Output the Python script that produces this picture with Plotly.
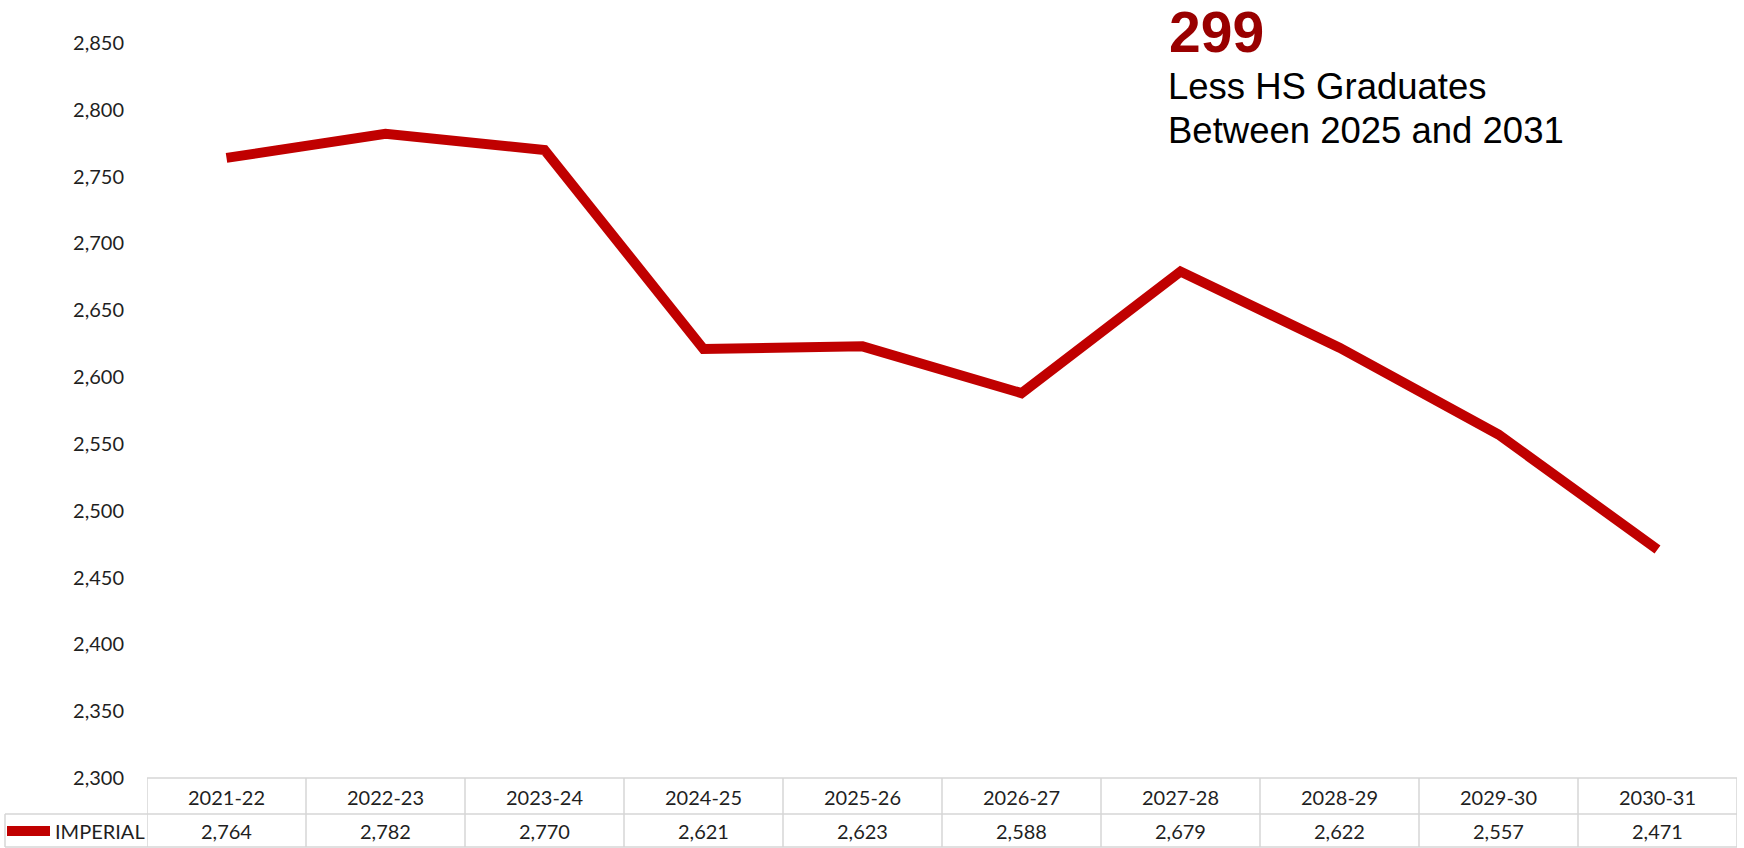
import plotly.graph_objects as go

# ---- data ----
years = ["2021-22", "2022-23", "2023-24", "2024-25", "2025-26",
         "2026-27", "2027-28", "2028-29", "2029-30", "2030-31"]
imperial = [2764, 2782, 2770, 2621, 2623, 2588, 2679, 2622, 2557, 2471]
series_name = "IMPERIAL"
y_ticks = [2300, 2350, 2400, 2450, 2500, 2550, 2600, 2650, 2700, 2750, 2800, 2850]
headline_number = "299"
headline_lines = ["Less HS Graduates", "Between 2025 and 2031"]

# ---- layout geometry (pixels) ----
W, H = 1744, 848
L, R, T, B = 147, 7, 43, 70
PW = W - L - R
PH = H - T - B

def px_x(px):
    return (px - L) / PW

def px_y(py):
    return (H - B - py) / PH

RED = "#C00000"
GRID = "#D6D6D6"
TXT = "#1f1f1f"
FONT = "Lato"
HEAD_FONT = "Liberation Sans, Arial"

fig = go.Figure()
fig.add_trace(go.Scatter(
    x=years, y=imperial, mode="lines", name=series_name,
    line=dict(color=RED, width=10), showlegend=True,
))

shapes = []
line_style = dict(color=GRID, width=1.5)
# horizontal table lines
shapes.append(dict(type="line", xref="x", yref="paper", x0=-0.5, x1=len(years) - 0.5,
                   y0=px_y(778), y1=px_y(778), line=line_style))
for yy in (814, 847):
    shapes.append(dict(type="line", xref="paper", yref="paper", x0=px_x(5), x1=px_x(1737),
                       y0=px_y(yy), y1=px_y(yy), line=line_style))
# vertical table lines at category boundaries
for i in range(len(years) + 1):
    shapes.append(dict(type="line", xref="x", yref="paper", x0=i - 0.5, x1=i - 0.5,
                       y0=px_y(778), y1=px_y(847), line=line_style))
shapes.append(dict(type="line", xref="paper", yref="paper", x0=px_x(5), x1=px_x(5),
                   y0=px_y(814), y1=px_y(847), line=line_style))

annotations = []
for c, v in zip(years, imperial):
    annotations.append(dict(x=c, xref="x", y=px_y(831), yref="paper", text=f"{v:,}",
                            showarrow=False, xanchor="center", yanchor="middle",
                            font=dict(family=FONT, size=20, color=TXT)))
annotations.append(dict(x=px_x(1167), xref="paper", y=px_y(32), yref="paper",
                        text=f"<b>{headline_number}</b>", showarrow=False,
                        xanchor="left", yanchor="middle", height=50,
                        font=dict(family=HEAD_FONT, size=57, color="#990000")))
for line_text, cy in zip(headline_lines, (86, 130)):
    annotations.append(dict(x=px_x(1166), xref="paper", y=px_y(cy), yref="paper",
                            text=line_text, showarrow=False, align="left",
                            xanchor="left", yanchor="middle",
                            font=dict(family=HEAD_FONT, size=36.5, color="#000000")))

fig.update_layout(
    width=W, height=H,
    margin=dict(l=L, r=R, t=T, b=B, autoexpand=False),
    paper_bgcolor="white", plot_bgcolor="white",
    font=dict(family=FONT, size=20, color=TXT),
    showlegend=True,
    legend=dict(x=px_x(2), y=px_y(831), xanchor="left", yanchor="middle",
                bgcolor="rgba(0,0,0,0)", borderwidth=0, itemwidth=43,
                font=dict(family=FONT, size=20, color=TXT)),
    xaxis=dict(type="category", range=[-0.5, len(years) - 0.5], showgrid=False,
               zeroline=False, showline=False, ticks="", ticklabelstandoff=6,
               automargin=False,
               tickfont=dict(family=FONT, size=20, color=TXT), fixedrange=True),
    yaxis=dict(range=[y_ticks[0], y_ticks[-1]], tickvals=y_ticks, tickformat=",",
               showgrid=False, zeroline=False, showline=False, ticks="",
               automargin=False,
               ticklabelstandoff=22, tickfont=dict(family=FONT, size=20, color=TXT)),
    shapes=shapes,
    annotations=annotations,
)

fig.write_html("out.html", config={"displayModeBar": False},
               post_script="document.body.style.margin='0';")
